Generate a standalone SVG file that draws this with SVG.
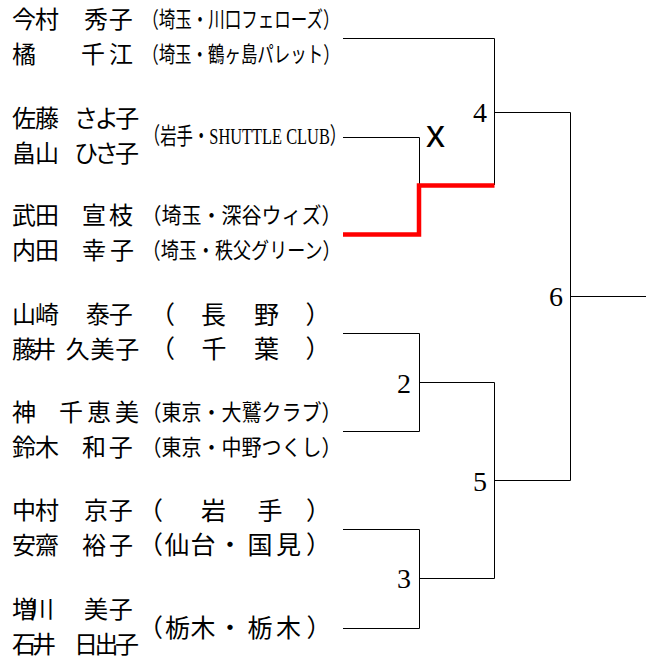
<svg xmlns="http://www.w3.org/2000/svg" width="655" height="661" viewBox="0 0 655 661">
<style>
.nm{font-family:"Noto Sans CJK JP","Noto Sans CJK SC",sans-serif;font-size:24px;fill:#000}
.af{font-family:"Noto Sans CJK JP","Noto Sans CJK SC",sans-serif;font-size:22px;fill:#000}
.af2{font-family:"Noto Sans CJK JP","Noto Sans CJK SC",sans-serif;font-size:25px;fill:#000}
.lat{font-family:"Liberation Serif","Noto Sans CJK JP",serif;font-size:23px;fill:#000}
.num{font-family:"Liberation Serif",serif;font-size:28px;text-anchor:middle;fill:#000}
.mark{font-family:"Liberation Sans",sans-serif;font-size:38px;fill:#000}
.ln{fill:none;stroke:#000;stroke-width:1}
.win{fill:none;stroke:#f00;stroke-width:4.5}
</style>
<rect width="655" height="661" fill="#fff"/>

<g id="connectors">
<polyline class="ln" points="343,38.5 494.5,38.5 494.5,185"/>
<polyline class="ln" points="343,137.5 419.5,137.5 419.5,185"/>
<polyline class="win" points="343,234.5 419,234.5 419,185.5 494.5,185.5"/>
<polyline class="ln" points="494.5,112.5 570.5,112.5 570.5,480.5 494.5,480.5"/>
<line class="ln" x1="570.5" y1="296.5" x2="646" y2="296.5"/>
<polyline class="ln" points="343,333.5 419.5,333.5 419.5,431.5 343,431.5"/>
<polyline class="ln" points="419.5,382.5 494.5,382.5 494.5,578.5 419.5,578.5"/>
<polyline class="ln" points="343,529.5 419.5,529.5 419.5,628.5 343,628.5"/>
</g>

<g id="entry1">
<text class="nm" x="12" y="28.1" textLength="47" lengthAdjust="spacing">今村</text>
<text class="nm" x="84" y="28.1" textLength="48.7" lengthAdjust="spacing">秀子</text>
<text class="nm" x="12" y="62.6">橘</text>
<text class="nm" x="81" y="62.6" textLength="52" lengthAdjust="spacing">千江</text>
<text class="af" x="142.2" y="27.4" textLength="197.4" lengthAdjust="spacingAndGlyphs">（埼玉・川口フェローズ）</text>
<text class="af" x="142.2" y="61.9" textLength="197.4" lengthAdjust="spacingAndGlyphs">（埼玉・鶴ヶ島パレット）</text>
</g>

<g id="entry2">
<text class="nm" x="12" y="127.1" textLength="47" lengthAdjust="spacing">佐藤</text>
<text class="nm" x="74" y="127.1" textLength="65.3" lengthAdjust="spacing">さよ子</text>
<text class="nm" x="12" y="161.6" textLength="47" lengthAdjust="spacing">畠山</text>
<text class="nm" x="74" y="161.6" textLength="65" lengthAdjust="spacing">ひさ子</text>
<text class="lat" x="143.8" y="143.5" textLength="202.4" lengthAdjust="spacingAndGlyphs">（岩手・SHUTTLE CLUB）</text>
</g>

<g id="entry3">
<text class="nm" x="12" y="224.1" textLength="47" lengthAdjust="spacing">武田</text>
<text class="nm" x="82" y="224.1" textLength="51" lengthAdjust="spacing">宣枝</text>
<text class="nm" x="12" y="258.6" textLength="47" lengthAdjust="spacing">内田</text>
<text class="nm" x="82" y="258.6" textLength="52" lengthAdjust="spacing">幸子</text>
<text class="af" x="141.4" y="223.4" textLength="200" lengthAdjust="spacingAndGlyphs">（埼玉・深谷ウィズ）</text>
<text class="af" x="142.6" y="257.9" textLength="198" lengthAdjust="spacingAndGlyphs">（埼玉・秩父グリーン）</text>
</g>

<g id="entry4">
<text class="nm" x="12" y="323.1" textLength="47" lengthAdjust="spacing">山崎</text>
<text class="nm" x="85.7" y="323.1" textLength="47" lengthAdjust="spacing">泰子</text>
<text class="nm" x="12" y="357.6" textLength="44" lengthAdjust="spacing">藤井</text>
<text class="nm" x="65.7" y="357.6" textLength="73.6" lengthAdjust="spacing">久美子</text>
<text class="af2" x="150 175 201 227 254 280 305.5" y="323.5">（　長　野　）</text>
<text class="af2" x="150 175 201.5 227 254 280 305.5" y="358">（　千　葉　）</text>
</g>

<g id="entry5">
<text class="nm" x="12" y="421.1">神</text>
<text class="nm" x="59" y="421.1" textLength="80" lengthAdjust="spacing">千恵美</text>
<text class="nm" x="12" y="455.6" textLength="47" lengthAdjust="spacing">鈴木</text>
<text class="nm" x="82" y="455.6" textLength="50.7" lengthAdjust="spacing">和子</text>
<text class="af" x="141.4" y="420.4" textLength="200" lengthAdjust="spacingAndGlyphs">（東京・大鷲クラブ）</text>
<text class="af" x="141.4" y="454.9" textLength="200" lengthAdjust="spacingAndGlyphs">（東京・中野つくし）</text>
</g>

<g id="entry6">
<text class="nm" x="12" y="519.1" textLength="47" lengthAdjust="spacing">中村</text>
<text class="nm" x="84" y="519.1" textLength="48.7" lengthAdjust="spacing">京子</text>
<text class="nm" x="12" y="553.6" textLength="47" lengthAdjust="spacing">安齋</text>
<text class="nm" x="82" y="553.6" textLength="51" lengthAdjust="spacing">裕子</text>
<text class="af2" x="138 163 201 226 257.5 283 306" y="519.5">（　岩　手　）</text>
<text class="af2" x="138 164.5 190.5 217.5 247.5 276 306" y="554">（仙台・国見）</text>
</g>

<g id="entry7">
<text class="nm" x="12" y="618.1" textLength="42" lengthAdjust="spacing">増川</text>
<text class="nm" x="84" y="618.1" textLength="48.7" lengthAdjust="spacing">美子</text>
<text class="nm" x="12" y="652.6" textLength="44" lengthAdjust="spacing">石井</text>
<text class="nm" x="74" y="652.6" textLength="65" lengthAdjust="spacing">日出子</text>
<text class="af2" x="138 165 190.5 217.5 247.5 276 306.5" y="636.5">（栃木・栃木）</text>
</g>

<g id="match2"><text class="num" x="404" y="392.5">2</text></g>
<g id="match3"><text class="num" x="404" y="588">3</text></g>
<g id="match4"><text class="num" x="480" y="122">4</text></g>
<g id="match5"><text class="num" x="480" y="490.5">5</text></g>
<g id="match6"><text class="num" x="556" y="306">6</text></g>
<g id="walkover"><text class="mark" x="426" y="146.5">x</text></g>
</svg>
